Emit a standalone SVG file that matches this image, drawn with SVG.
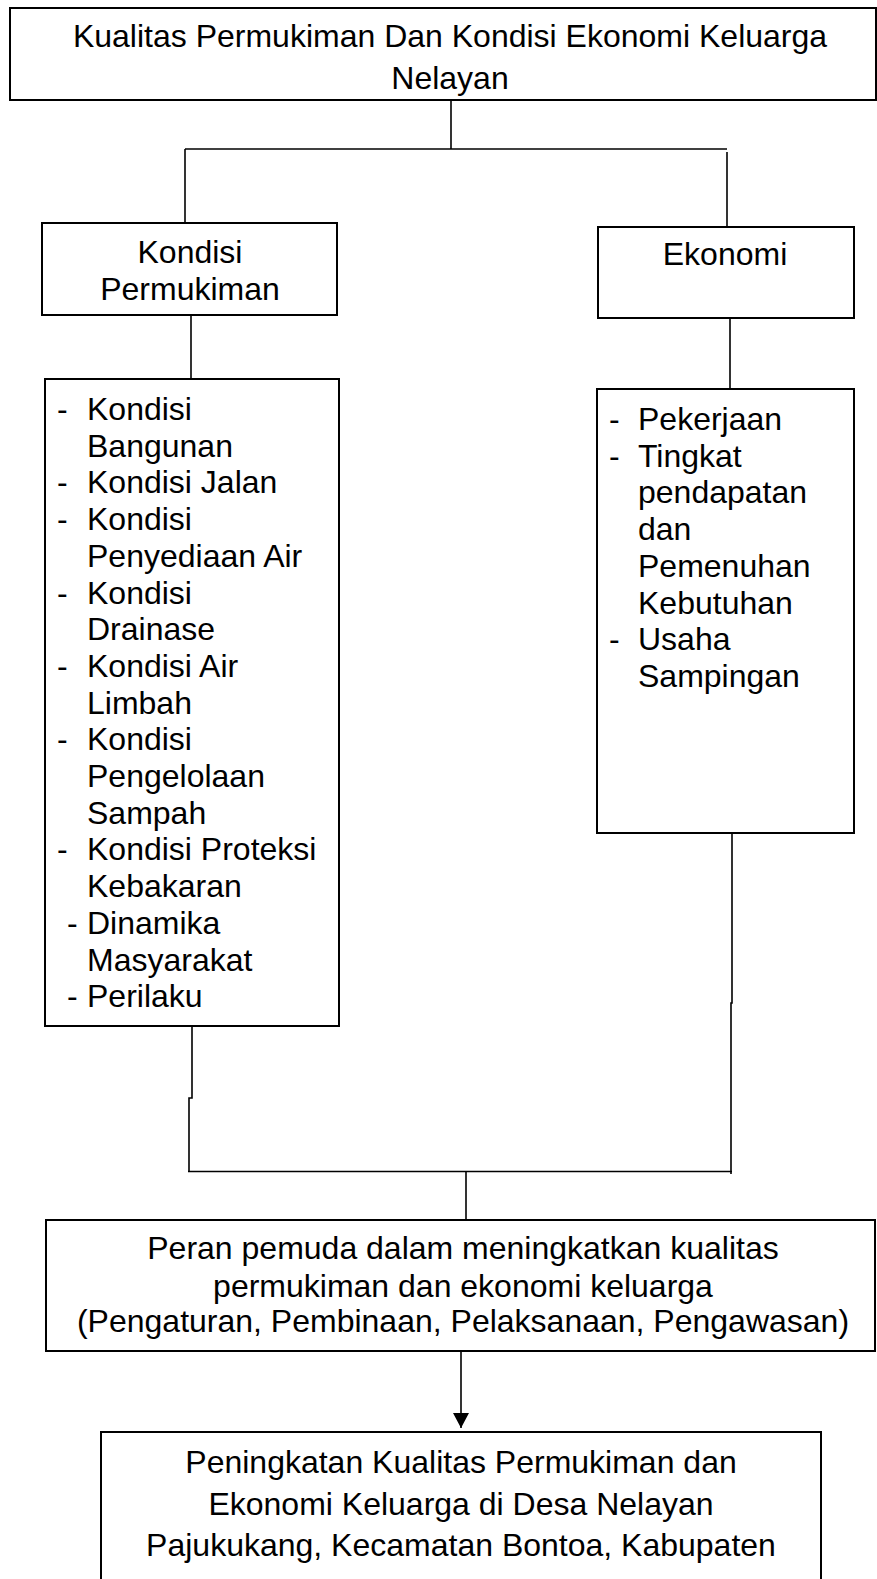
<svg xmlns="http://www.w3.org/2000/svg" width="877" height="1579" viewBox="0 0 877 1579">
<style>
.box{fill:#fff;stroke:#000;stroke-width:2}
.ln{fill:none;stroke:#000;stroke-width:1.6}
text{font-family:"Liberation Sans",Arial,sans-serif;font-size:32px;fill:#000}
.c{text-anchor:middle}
</style>
<defs>
<marker id="arr" markerWidth="16" markerHeight="16" refX="15" refY="8" orient="auto" markerUnits="userSpaceOnUse">
<path d="M0,0 L15,8 L0,16 Z" fill="#000"/>
</marker>
</defs>
<g id="connectors">
<path class="ln" d="M451,100 V149"/>
<path class="ln" d="M185,149 H727"/>
<path class="ln" d="M185,149 V223"/>
<path class="ln" d="M727,152 V227"/>
<path class="ln" d="M191,315 V379"/>
<path class="ln" d="M730,318 V389"/>
<path class="ln" d="M192,1026 V1098 H189 V1172"/>
<path class="ln" d="M732,833 V1003 H731 V1174"/>
<path class="ln" d="M188,1171.5 H732"/>
<path class="ln" d="M466,1171.5 V1220"/>
<path class="ln" d="M461,1351 V1428" marker-end="url(#arr)"/>
</g>
<g id="root">
<rect class="box" x="10" y="8" width="866" height="92"/>
<text class="c" x="450" y="47">Kualitas Permukiman Dan Kondisi Ekonomi Keluarga</text>
<text class="c" x="450" y="89">Nelayan</text>
</g>
<g id="kondisi-permukiman">
<rect class="box" x="42" y="223" width="295" height="92"/>
<text class="c" x="190" y="263">Kondisi</text>
<text class="c" x="190" y="300">Permukiman</text>
</g>
<g id="ekonomi">
<rect class="box" x="598" y="227" width="256" height="91"/>
<text class="c" x="725" y="265">Ekonomi</text>
</g>
<g id="list-permukiman">
<rect class="box" x="45" y="379" width="294" height="647"/>
<text x="57" y="420">-</text><text x="87" y="420">Kondisi</text>
<text x="87" y="456.7">Bangunan</text>
<text x="57" y="493.4">-</text><text x="87" y="493.4">Kondisi Jalan</text>
<text x="57" y="530.1">-</text><text x="87" y="530.1">Kondisi</text>
<text x="87" y="566.8">Penyediaan Air</text>
<text x="57" y="603.5">-</text><text x="87" y="603.5">Kondisi</text>
<text x="87" y="640.2">Drainase</text>
<text x="57" y="676.9">-</text><text x="87" y="676.9">Kondisi Air</text>
<text x="87" y="713.6">Limbah</text>
<text x="57" y="750.3">-</text><text x="87" y="750.3">Kondisi</text>
<text x="87" y="787">Pengelolaan</text>
<text x="87" y="823.7">Sampah</text>
<text x="57" y="860.4">-</text><text x="87" y="860.4">Kondisi Proteksi</text>
<text x="87" y="897.1">Kebakaran</text>
<text x="67" y="933.8">-</text><text x="87" y="933.8">Dinamika</text>
<text x="87" y="970.5">Masyarakat</text>
<text x="67" y="1007.2">-</text><text x="87" y="1007.2">Perilaku</text>
</g>
<g id="list-ekonomi">
<rect class="box" x="597" y="389" width="257" height="444"/>
<text x="609" y="430">-</text><text x="638" y="430">Pekerjaan</text>
<text x="609" y="466.7">-</text><text x="638" y="466.7">Tingkat</text>
<text x="638" y="503.4">pendapatan</text>
<text x="638" y="540.1">dan</text>
<text x="638" y="576.8">Pemenuhan</text>
<text x="638" y="613.5">Kebutuhan</text>
<text x="609" y="650.2">-</text><text x="638" y="650.2">Usaha</text>
<text x="638" y="686.9">Sampingan</text>
</g>
<g id="peran">
<rect class="box" x="46" y="1220" width="829" height="131"/>
<text class="c" x="463" y="1259">Peran pemuda dalam meningkatkan kualitas</text>
<text class="c" x="463" y="1296.5">permukiman dan ekonomi keluarga</text>
<text class="c" x="463" y="1332">(Pengaturan, Pembinaan, Pelaksanaan, Pengawasan)</text>
</g>
<g id="peningkatan">
<rect class="box" x="101" y="1432" width="720" height="170"/>
<text class="c" x="461" y="1473">Peningkatan Kualitas Permukiman dan</text>
<text class="c" x="461" y="1515">Ekonomi Keluarga di Desa Nelayan</text>
<text class="c" x="461" y="1556">Pajukukang, Kecamatan Bontoa, Kabupaten</text>
</g>
</svg>
